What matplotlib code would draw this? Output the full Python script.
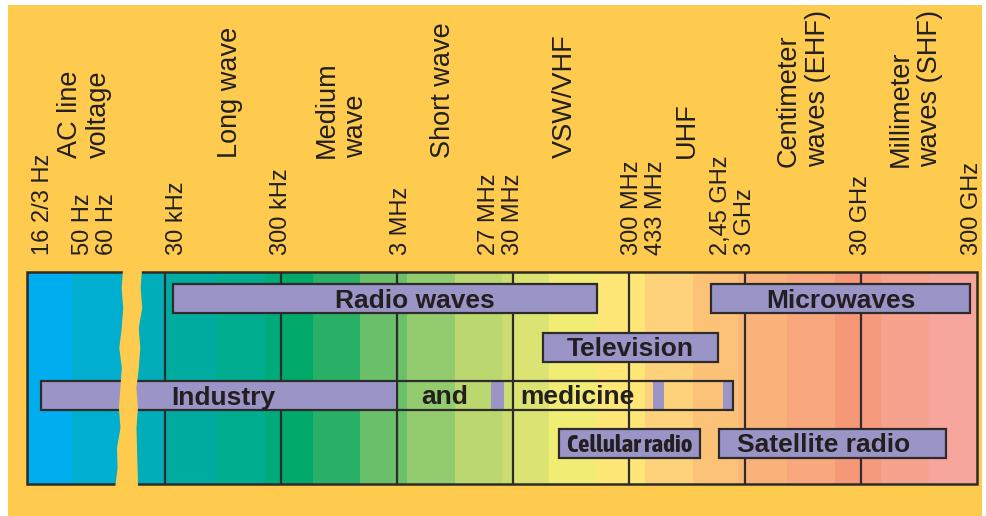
import numpy as np
import matplotlib
matplotlib.use("Agg")
import matplotlib.pyplot as plt
from matplotlib.patches import Rectangle, Polygon
from matplotlib import font_manager

# ---- data ----
# frequency marks above the strip (lines stacked side by side, one anchor line sits on the mark)
tick_anchor_hz = [16.67, 60, 3e4, 3e5, 3e6, 3e7, 3e8, 3e9, 3e10, 3e11]
tick_lines = [["16 2/3 Hz"], ["50 Hz", "60 Hz"], ["30 kHz"], ["300 kHz"], ["3 MHz"],
              ["27 MHz", "30 MHz"], ["300 MHz", "433 MHz"], ["2,45 GHz", "3 GHz"],
              ["30 GHz"], ["300 GHz"]]
tick_anchor_line = [0, 1, 0, 0, 0, 1, 0, 1, 0, 0]

# band names
band_names = ["AC line\nvoltage", "Long wave", "Medium\nwave", "Short wave", "VSW/VHF",
              "UHF", "Centimeter\nwaves (EHF)", "Millimeter\nwaves (SHF)"]
band_name_hz = [38, 1.1e5, 1e6, 7.5e6, 8.4e7, 9.5e8, 9.5e9, 8.8e10]

# decade lines in the strip
decade_hz = [3e4, 3e5, 3e6, 3e7, 3e8, 3e9, 3e10]
strip_lo_hz = 12.2
strip_hi_hz = 3e11

# colour steps of the strip
spec_lo_hz = [12.2, 30, 1.4e4, 3e4, 8.4e4, 2.18e5, 3e5, 5.66e5, 1.44e6, 3.66e6, 9.5e6, 2.4e7,
              3e7, 6.1e7, 1.59e8, 4.12e8, 1.07e9, 2.6e9, 3e9, 6.9e9, 1.79e10, 3e10, 4.46e10,
              1.156e11]
spec_hi_hz = spec_lo_hz[1:2] + [95] + spec_lo_hz[3:] + [3e11]
spec_colors = ["#00AEEF", "#00AFD0", "#00ADB8", "#00AB9F", "#00AD8E", "#00AB7A", "#00A86A",
               "#27B066", "#6ABF69", "#92CC6E", "#BBD870", "#CCDD70", "#DBE373", "#F1EC74",
               "#FEE677", "#FDD27A", "#FCC378", "#FBB777", "#F9B37A", "#F8A87C", "#F69878",
               "#F69A7E", "#F5A28E", "#F6A59C"]

# application bars
apps = ["Radio waves", "Microwaves", "Television", "Industry and medicine",
        "Cellular radio", "Satellite radio"]
app_lo_hz = [3.5e4, 1.53e9, 5.4e7, 16, 7.5e7, 1.79e9]
app_hi_hz = [1.59e8, 2.61e11, 1.75e9, 2.37e9, 1.23e9, 1.62e11]
app_row = [0, 0, 1, 2, 3, 3]
app_label_hz = [4.3e6, None, None, None, None, 1.44e10]

# filled parts of the industry/medicine bar
ism_lo_hz = [16, 1.94e7, 4.83e8, 1.94e9]
ism_hi_hz = [2.94e6, 2.5e7, 6.0e8, 2.37e9]
ism_words = ["Industry", "and", "medicine"]
ism_word_hz = [9.5e4, 7.8e6, 1.07e8]

# ---- layout ----
W, H = 986, 516
PX_DEC = 116.0           # pixels per decade
X30K = np.log10(3e4)     # 30 kHz sits at pixel 165
BREAK_SHIFT = 2.2        # decades hidden by the break
STRIP_TOP, STRIP_BOT = 272, 484
ROW_Y = [298.5, 347, 395, 443]
ROW_H = 29
BG = "#FECB4E"
BAR = "#9A95C6"
INK = "#231F20"
EDGE = "#2E2B2B"


def pos(f):
    f = np.asarray(f, dtype=float)
    return np.where(f < 1e3, np.log10(f) + BREAK_SHIFT, np.log10(f))


def narrow_font():
    # a condensed bold face for "Cellular radio", if one is installed
    for fam in ("Asap Condensed", "Archivo Narrow"):
        for f in font_manager.fontManager.ttflist:
            if f.name == fam and str(f.weight) in ("700", "bold"):
                return dict(fontproperties=font_manager.FontProperties(fname=f.fname, size=18))
    for f in font_manager.fontManager.ttflist:
        if f.name == "Archivo Narrow":
            return dict(fontproperties=font_manager.FontProperties(
                fname=f.fname, size=18, weight="bold"))
    return dict(fontsize=14.5, fontweight="bold")


plt.rcParams["font.family"] = ["Liberation Sans", "DejaVu Sans"]
narrow = narrow_font()

fig = plt.figure(figsize=(W / 100, H / 100), dpi=100)
fig.patch.set_facecolor("white")

ax = fig.add_axes([0, 0, 1, 1])
ax.set_xlim(X30K - 165 / PX_DEC, X30K + (W - 165) / PX_DEC)
ax.set_ylim(H, 0)
ax.axis("off")

# orange background panel (8..982 px wide, 5..516 px tall)
ax.add_patch(Rectangle((8 / W, 0), 974 / W, 511 / H, transform=ax.transAxes,
                       facecolor=BG, edgecolor="none", zorder=0))

# colour strip
lo = pos(spec_lo_hz)
hi = pos(spec_hi_hz)
ax.bar(lo, STRIP_BOT - STRIP_TOP, width=hi - lo, bottom=STRIP_TOP, align="edge",
       color=spec_colors, edgecolor="none", zorder=1)
ax.vlines(pos(decade_hz), STRIP_TOP, STRIP_BOT, color=EDGE, lw=1.6, zorder=2)
s0, s1 = pos(strip_lo_hz), pos(strip_hi_hz)
ax.add_patch(Rectangle((s0, STRIP_TOP), s1 - s0, STRIP_BOT - STRIP_TOP, fill=False,
                       edgecolor=EDGE, lw=1.8, zorder=3))

# application bars
for i, name in enumerate(apps):
    a, b = pos(app_lo_hz[i]), pos(app_hi_hz[i])
    y = ROW_Y[app_row[i]]
    if name.startswith("Industry"):
        il, ih = pos(ism_lo_hz), pos(ism_hi_hz)
        ax.barh([y] * len(il), ih - il, left=il, height=ROW_H, color=BAR,
                edgecolor="none", zorder=4)
        ax.barh(y, b - a, left=a, height=ROW_H, fill=False, edgecolor=EDGE, lw=1.6, zorder=4)
        for w, f in zip(ism_words, ism_word_hz):
            ax.text(pos(f), y, w, ha="center", va="center_baseline", fontsize=19,
                    fontweight="bold", color=INK, zorder=6)
        continue
    ax.barh(y, b - a, left=a, height=ROW_H, color=BAR, edgecolor=EDGE, lw=1.6, zorder=4)
    lx = (a + b) / 2 if app_label_hz[i] is None else pos(app_label_hz[i])
    if name == "Cellular radio":
        ax.text(lx, y, name, ha="center", va="center_baseline", color=INK, zorder=6,
                **narrow)
    else:
        ax.text(lx, y, name, ha="center", va="center_baseline", fontsize=19,
                fontweight="bold", color=INK, zorder=6)

# torn break in the strip
bx = pos(91)
ys = np.linspace(STRIP_TOP - 4, STRIP_BOT + 4, 12)
left_w = np.array([-9, -10, -8, -9, -11, -8, -9, -10, -8, -11, -10, -12]) / PX_DEC
right_w = np.array([10, 9, 11, 8, 10, 9, 7, 9, 8, 9, 10, 11]) / PX_DEC
slant = np.linspace(4, -1, 12) / PX_DEC
xs = np.concatenate([bx + slant + left_w, (bx + slant + right_w)[::-1]])
yy = np.concatenate([ys, ys[::-1]])
ax.add_patch(Polygon(np.column_stack([xs, yy]), closed=True, facecolor=BG,
                     edgecolor="none", zorder=5))

# frequency marks
LINE_PT = 17.5
nudge_pt = [0, 0, 8.5, 0, 3, 0, 2, 0, 0, -3.5]
for f, lines, k, nd in zip(tick_anchor_hz, tick_lines, tick_anchor_line, nudge_pt):
    for j, t in enumerate(lines):
        ax.annotate(t, xy=(float(pos(f)), 255), xytext=((j - k) * LINE_PT + nd, 0),
                    textcoords="offset points", rotation=90, ha="center", va="bottom",
                    fontsize=17, color=INK, annotation_clip=False)

# band names
for name, f in zip(band_names, band_name_hz):
    yb = 167 if "waves (" in name else 158
    ax.text(float(pos(f)), yb, name, rotation=90, ha="center", va="bottom",
            fontsize=19.5, color=INK, linespacing=1.15, multialignment="left")

fig.savefig("out.png", dpi=100, facecolor=fig.get_facecolor())
